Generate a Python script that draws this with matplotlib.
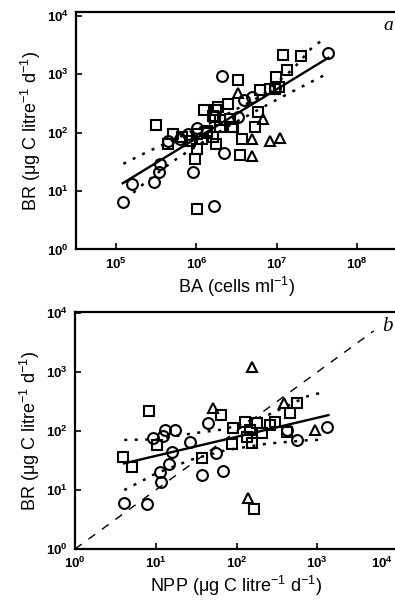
import matplotlib
matplotlib.use("Agg")
import matplotlib.pyplot as plt
import numpy as np

plt.rcParams['font.family'] = ['Liberation Sans', 'DejaVu Sans']
plt.rcParams['mathtext.fontset'] = 'custom'
plt.rcParams['mathtext.rm'] = 'Liberation Sans'
plt.rcParams['mathtext.it'] = 'Liberation Sans:italic'
plt.rcParams['mathtext.bf'] = 'Liberation Sans:bold'

# values, as log10 exponents (both axes are log-log)
# panel a: BA (cells/ml) vs BR
a_circ_x = [5.08, 5.20, 5.47, 5.53, 5.55, 5.96, 6.34, 6.32, 6.22, 7.64, 5.90, 5.65,
            6.69, 6.59, 6.52, 6.98, 6.01, 5.80]
a_circ_y = [0.81, 1.12, 1.15, 1.32, 1.47, 1.32, 1.65, 2.96, 0.75, 3.36, 1.98, 1.86,
            2.60, 2.55, 2.27, 2.76, 2.07, 1.89]
a_sq_x = [5.50, 5.71, 5.65, 5.98, 6.01, 7.08, 6.52, 6.99, 7.13, 6.79, 6.92, 6.40,
          6.27, 6.09, 6.77, 6.73, 6.44, 6.42, 6.30, 6.57, 6.54, 6.13, 6.21, 6.01,
          5.92, 6.23, 6.25, 7.30, 7.03, 6.98, 5.82, 6.25, 6.07, 6.01, 6.21, 6.30,
          6.46, 6.13]
a_sq_y = [2.13, 1.98, 1.81, 1.55, 0.70, 3.32, 2.90, 2.95, 3.06, 2.72, 2.75, 2.49,
          2.43, 2.38, 2.35, 2.09, 2.09, 2.23, 2.21, 1.89, 1.61, 2.03, 1.92, 1.98,
          1.86, 2.26, 2.38, 3.31, 2.77, 2.74, 1.92, 1.81, 1.89, 1.72, 2.29, 2.09,
          2.09, 2.00]
a_tri_x = [6.52, 6.83, 6.69, 6.92, 7.04, 6.69]
a_tri_y = [2.67, 2.23, 1.89, 1.86, 1.91, 1.59]
a_fit_x = [5.083, 7.644]
a_fit_y = [1.133, 3.277]
a_up_x = [5.09, 5.34, 5.47, 6.20, 6.80, 7.20, 7.44, 7.56]
a_up_y = [1.465, 1.636, 1.72, 2.18, 2.62, 3.08, 3.45, 3.57]
a_lo_x = [5.215, 5.34, 5.69, 5.82, 6.40, 7.00, 7.21, 7.58]
a_lo_y = [0.97, 1.12, 1.49, 1.61, 2.11, 2.56, 2.71, 2.97]
a_xdec = [5, 6, 7, 8]
a_ydec = [0, 1, 2, 3, 4]

# panel b: NPP vs BR
b_circ_x = [0.61, 0.89, 1.05, 1.07, 1.12, 1.24, 1.09, 1.65, 1.42, 1.20, 1.17,
            1.57, 1.74, 1.83, 2.62, 2.75, 3.12, 0.96]
b_circ_y = [0.78, 0.76, 1.31, 1.14, 2.02, 2.02, 1.92, 2.13, 1.82, 1.65, 1.45,
            1.25, 1.62, 1.32, 2.02, 1.85, 2.07, 1.89]
b_sq_x = [0.92, 1.81, 1.01, 0.60, 0.70, 1.57, 2.22, 1.94, 1.96, 2.11, 2.25, 2.17,
          2.13, 2.19, 2.42, 2.48, 2.31, 2.62, 2.66, 2.75]
b_sq_y = [2.34, 2.27, 1.76, 1.56, 1.39, 1.54, 0.68, 1.78, 2.05, 2.16, 2.14, 2.02,
          1.90, 1.79, 2.10, 2.16, 1.96, 1.99, 2.30, 2.47]
b_tri_x = [2.19, 1.71, 2.14, 2.59, 2.97]
b_tri_y = [3.09, 2.40, 0.86, 2.47, 2.02]
b_fit_x = [0.607, 3.139]
b_fit_y = [1.452, 2.271]
b_up_x = [0.61, 1.00, 1.45, 1.85, 2.40, 2.91, 3.06]
b_up_y = [1.85, 1.86, 1.96, 2.03, 2.28, 2.61, 2.65]
b_lo_x = [0.61, 0.85, 1.00, 1.45, 1.88, 2.40, 2.93, 3.05]
b_lo_y = [1.00, 1.17, 1.28, 1.52, 1.68, 1.79, 1.85, 1.85]
b_one_to_one = [0.0, 3.7]
b_xdec = [0, 1, 2, 3, 4]
b_ydec = [0, 1, 2, 3, 4]


def p(v):
    return 10 ** np.asarray(v)


def dec_labels(decs):
    return [r'$\mathbf{10^{%d}}$' % d for d in decs]


fig = plt.figure(figsize=(3.95, 6.0), dpi=100)
ax_a = fig.add_axes([76 / 395, 1 - 249.5 / 600, 321 / 395, 237.5 / 600])
ax_b = fig.add_axes([75 / 395, 1 - 549 / 600, 323 / 395, 237 / 600])

mk = dict(linestyle='none', markerfacecolor='none', markeredgecolor='black',
          markeredgewidth=1.5)
dot = dict(color='black', lw=1.8, linestyle=(0, (1.2, 3.0)))


def draw(ax, circ, sq, tri, fit, up, lo):
    ax.plot(p(circ[0]), p(circ[1]), marker='o', ms=7.8, **mk)
    ax.plot(p(sq[0]), p(sq[1]), marker='s', ms=7.6, **mk)
    ax.plot(p(tri[0]), p(tri[1]), marker='^', ms=7, **mk)
    ax.plot(p(fit[0]), p(fit[1]), color='black', lw=1.7)
    ax.plot(p(up[0]), p(up[1]), **dot)
    ax.plot(p(lo[0]), p(lo[1]), **dot)


draw(ax_a, (a_circ_x, a_circ_y), (a_sq_x, a_sq_y), (a_tri_x, a_tri_y),
     (a_fit_x, a_fit_y), (a_up_x, a_up_y), (a_lo_x, a_lo_y))
draw(ax_b, (b_circ_x, b_circ_y), (b_sq_x, b_sq_y), (b_tri_x, b_tri_y),
     (b_fit_x, b_fit_y), (b_up_x, b_up_y), (b_lo_x, b_lo_y))
ax_b.plot(p(b_one_to_one), p(b_one_to_one), color='black', lw=1.0,
          linestyle=(0, (6, 6)))

for ax in (ax_a, ax_b):
    ax.set_xscale('log')
    ax.set_yscale('log')
    ax.minorticks_off()

ax_a.set_xlim(10 ** 4.5, 10 ** 8.5)
ax_a.set_ylim(1, 10 ** 4.06)
ax_a.set_xticks(p(a_xdec), dec_labels(a_xdec))
ax_a.set_yticks(p(a_ydec), dec_labels(a_ydec))

ax_b.set_xlim(1, 1e4)
ax_b.set_ylim(1, 10 ** 4.02)
# last NPP label is drawn separately so it stays inside the figure
ax_b.set_xticks(p(b_xdec), dec_labels(b_xdec[:-1]) + [''])
ax_b.set_yticks(p(b_ydec), dec_labels(b_ydec))
ax_b.annotate(dec_labels(b_xdec[-1:])[0], xy=(p(b_xdec[-1]), 0),
              xycoords=('data', 'axes fraction'), xytext=(-3.5, -5.2),
              textcoords='offset points', fontsize=9.5, ha='right', va='top',
              annotation_clip=False)

for ax in (ax_a, ax_b):
    ax.tick_params(direction='in', length=4, width=1.2, labelsize=9.5, pad=5)
    for s in ax.spines.values():
        s.set_linewidth(1.6)
    ax.set_ylabel('BR (μg C litre$^{-1}$ d$^{-1}$)', fontsize=13, labelpad=3)

ax_a.set_xlabel('BA (cells ml$^{-1}$)', fontsize=13, labelpad=2)
ax_b.set_xlabel('NPP (μg C litre$^{-1}$ d$^{-1}$)', fontsize=13, labelpad=2)

ax_a.text(0.972, 0.945, 'a', transform=ax_a.transAxes, fontsize=14,
          family='Liberation Serif', style='italic', ha='center', va='center')
ax_b.text(0.966, 0.937, 'b', transform=ax_b.transAxes, fontsize=15,
          family='Liberation Serif', style='italic', ha='center', va='center')

fig.savefig('out.png', dpi=100)
